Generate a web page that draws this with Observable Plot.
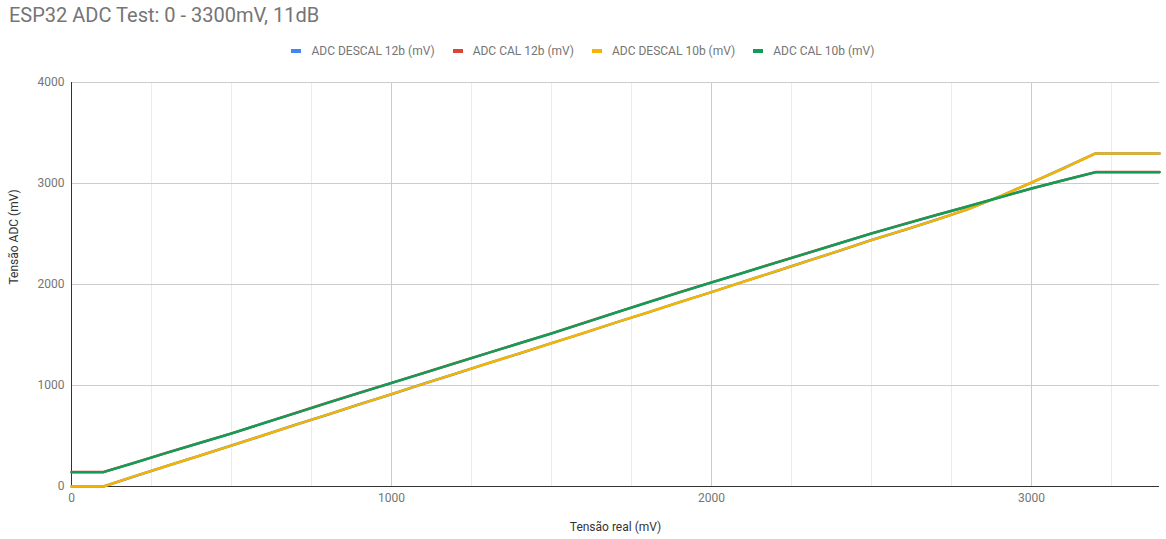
<!DOCTYPE html>
<html>
<head>
<meta charset="utf-8">
<script src="https://cdn.jsdelivr.net/npm/d3@7"></script>
<script src="https://cdn.jsdelivr.net/npm/@observablehq/plot@0.6"></script>
<style>
  html, body { margin: 0; padding: 0; background: #fff; }
  body { width: 1166px; height: 539px; position: relative; overflow: hidden; font-family: Roboto, sans-serif; }
  #title { position: absolute; left: 9px; top: 5px; font-size: 20px; line-height: 20px; color: #757575; white-space: nowrap; }
  #legend { position: absolute; left: 0; top: 45px; width: 1166px; display: flex; justify-content: center; font-size: 12px; line-height: 12px; color: #757575; }
  .item { display: flex; align-items: center; margin: 0 9px; white-space: nowrap; }
  .sw { width: 10px; height: 4px; margin-right: 10px; }
  #chart { position: absolute; left: 0; top: 65px; }
</style>
</head>
<body>
<div id="title"></div>
<div id="legend"></div>
<div id="chart"></div>
<script>
const title = "ESP32 ADC Test: 0 - 3300mV, 11dB";
const xLabel = "Tensão real (mV)";
const yLabel = "Tensão ADC (mV)";
const seriesNames = ["ADC DESCAL 12b (mV)", "ADC CAL 12b (mV)", "ADC DESCAL 10b (mV)", "ADC CAL 10b (mV)"];
const seriesColors = ["#4285f4", "#db4437", "#f4b400", "#0f9d58"];

const realMv = [0,100,200,300,400,500,600,700,800,900,1000,1100,1200,1300,1400,1500,1600,1700,1800,1900,2000,2100,2200,2300,2400,2500,2600,2700,2800,2900,3000,3100,3200,3300,3400];
const descal12 = [0,0,104,206,304,406,507,611,711,814,914,1017,1116,1219,1317,1419,1519,1623,1722,1825,1924,2028,2129,2233,2334,2440,2537,2638,2744,2871,3009,3151,3298,3298,3298];
const cal12   = [143,143,239,336,431,526,627,728,829,928,1026,1124,1223,1321,1419,1516,1619,1721,1823,1923,2021,2118,2215,2312,2409,2506,2596,2686,2773,2863,2951,3033,3113,3113,3113];
const descal10 = [0,0,105,205,305,405,508,610,712,813,915,1016,1117,1218,1318,1418,1520,1622,1723,1824,1925,2027,2130,2232,2335,2439,2538,2637,2745,2870,3010,3150,3297,3297,3297];
const cal10   = [142,142,238,335,430,525,626,727,828,927,1025,1123,1222,1320,1418,1515,1618,1720,1822,1922,2020,2117,2214,2311,2408,2505,2595,2685,2772,2862,2950,3032,3112,3112,3112];

const xMajorTicks = [0, 1000, 2000, 3000];
const xMinorTicks = [250, 500, 750, 1250, 1500, 1750, 2250, 2500, 2750, 3250];
const yTicks = [0, 1000, 2000, 3000, 4000];

document.getElementById("title").textContent = title;
const legend = document.getElementById("legend");
seriesNames.forEach((n, i) => {
  const it = document.createElement("div"); it.className = "item";
  const sw = document.createElement("div"); sw.className = "sw"; sw.style.background = seriesColors[i];
  const tx = document.createElement("span"); tx.textContent = n;
  it.appendChild(sw); it.appendChild(tx); legend.appendChild(it);
});

const allSeries = [descal12, cal12, descal10, cal10];
const data = [];
allSeries.forEach((arr, si) => arr.forEach((v, i) => data.push({x: realMv[i], y: v, s: seriesNames[si]})));

const chart = Plot.plot({
  width: 1166,
  height: 474,
  marginLeft: 71,
  marginRight: 7,
  marginTop: 17,
  marginBottom: 53,
  style: {fontFamily: "Roboto, sans-serif", fontSize: "12px", background: "transparent"},
  x: {domain: [0, 3400]},
  y: {domain: [0, 4000]},
  color: {domain: seriesNames, range: seriesColors},
  marks: [
    Plot.ruleX(xMinorTicks, {stroke: "#ebebeb", strokeWidth: 1}),
    Plot.ruleX(xMajorTicks, {stroke: "#cccccc", strokeWidth: 1}),
    Plot.ruleY(yTicks, {stroke: "#cccccc", strokeWidth: 1}),
    Plot.ruleX([0], {stroke: "#333333", strokeWidth: 1}),
    Plot.ruleY([0], {stroke: "#333333", strokeWidth: 1}),
    Plot.axisX({ticks: xMajorTicks, tickSize: 0, tickPadding: 7, label: null, fill: "#757575", tickFormat: d => String(d)}),
    Plot.axisY({ticks: yTicks, tickSize: 0, tickPadding: 7, label: null, fill: "#757575", tickFormat: d => String(d)}),
    Plot.line(data, {x: "x", y: "y", z: "s", stroke: "s", strokeWidth: 2.5}),
    Plot.text([xLabel], {text: d => d, frameAnchor: "bottom", dy: 44, fill: "#333333", fontSize: 12}),
    Plot.text([yLabel], {text: d => d, frameAnchor: "left", dx: -57, rotate: -90, fill: "#333333", fontSize: 12})
  ]
});
document.getElementById("chart").appendChild(chart);
</script>
</body>
</html>
